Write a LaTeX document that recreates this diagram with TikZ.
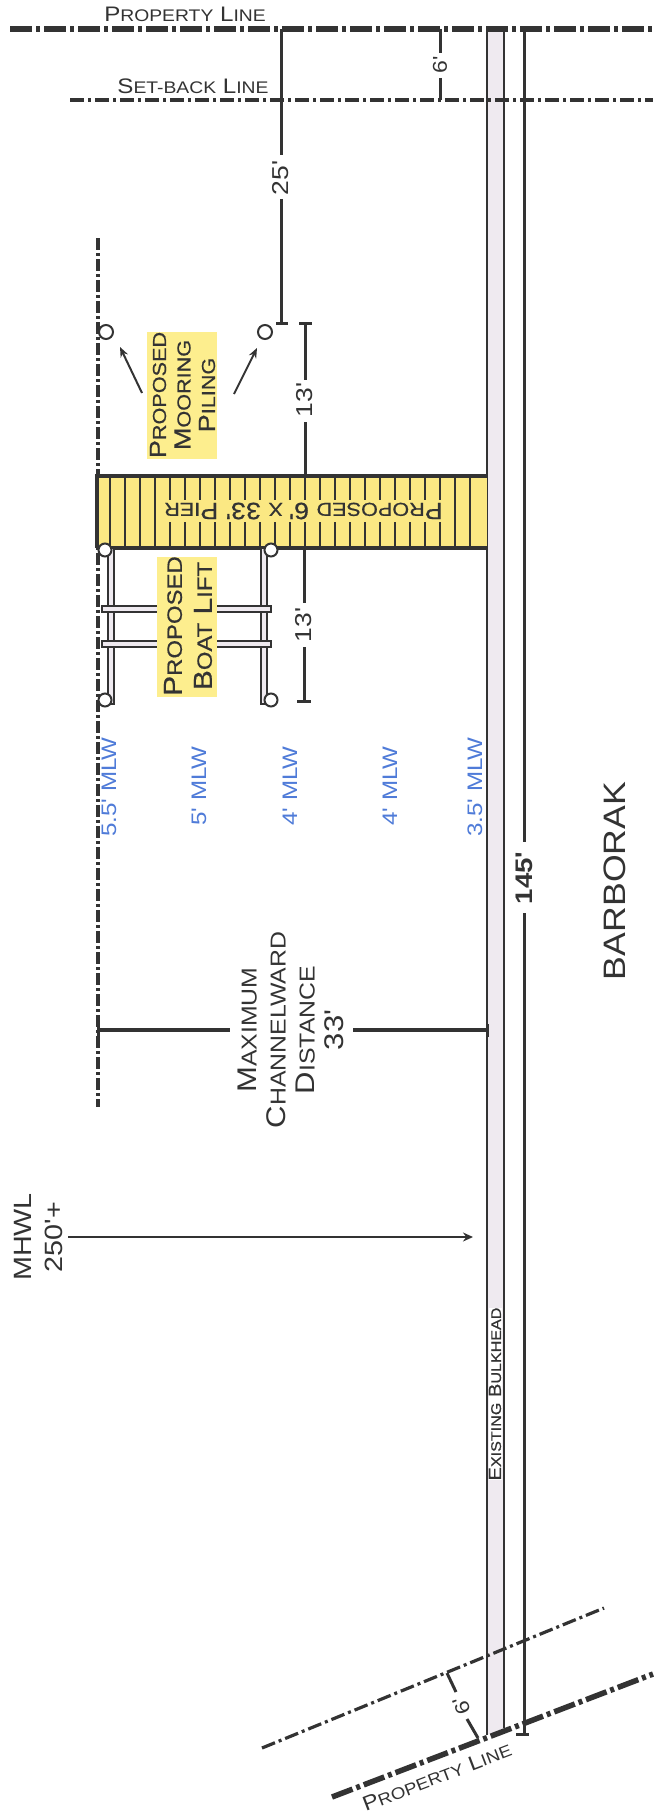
\documentclass[tikz,border=0pt]{standalone}
\usepackage{fontspec}
\setmainfont{Liberation Sans}
\newfontfamily\platefont[FakeStretch=1.15]{Liberation Sans}
\newfontfamily\heavyfont[FakeStretch=1.15,FakeBold=0.6]{Liberation Sans}
\usetikzlibrary{arrows.meta}
\definecolor{inkdark}{HTML}{333333}
\definecolor{pieryellow}{HTML}{FBE883}
\definecolor{markyellow}{HTML}{FDEE8E}
\definecolor{mlwblue}{HTML}{4F7BD8}
\definecolor{wallgray}{HTML}{EFEAF0}
\newcommand{\capword}[3]{{\fontsize{#1}{#1}\selectfont #2\fontsize{\the\dimexpr#1pt*4/5\relax}{#1}\selectfont #3}}
\tikzset{
  propline/.style={inkdark,line width=5.5pt,dash pattern=on 22pt off 4pt on 4pt off 4pt},
  setline/.style={inkdark,line width=3.2pt,dash pattern=on 14pt off 4pt on 3pt off 4pt},
  dimline/.style={inkdark,line width=3pt},
  pile/.style={circle,draw=inkdark,line width=2pt,fill=white,minimum size=13pt,inner sep=0pt},
  upright/.style={rotate=90,inner sep=0pt,text=inkdark},
  plate/.style={font=\platefont\fontsize{#1}{#1}\selectfont},
  mlw/.style={upright,text=mlwblue,plate=21},
  dimtext/.style={upright,plate=23},
}
\begin{document}
\begin{tikzpicture}[x=1pt,y=-1pt]
  \useasboundingbox (0,0) rectangle (653,1814);
  % bulkhead
  \fill [wallgray] (487,29) -- (487,1735) -- (504,1728) -- (504,29);
  \draw [inkdark,line width=2.2pt] (487,29) -- (487,1735) (504,29) -- (504,1728);
  \node (wall) [upright,fill=white,font=\heavyfont\fontsize{17.5}{17.5}\selectfont,minimum height=13pt] at (495,1394) {\capword{17.5}{E}{XISTING} \capword{17.5}{B}{ULKHEAD}};
  % lines across the lot
  \draw [propline] (10,29) -- (653,29);
  \draw [setline] (70,100) -- (653,100);
  \draw [inkdark,line width=3.5pt,dash pattern=on 12pt off 3pt on 3pt off 3pt] (98,238) -- (98,1107);
  \draw [propline] (332,1797) -- (653,1674);
  \draw [setline] (262,1748) -- (604,1608);
  \draw [dimline] (524,29) -- (524,842) (524,913) -- (524,1734);
  \draw [dimline] (516,1734) -- (529,1734);
  \node (lot) [upright,font=\platefont\bfseries\fontsize{24}{24}\selectfont] at (524,878) {145'};
  \node (owner) [upright,plate=31] at (615,881) {BARBORAK};
  % pier
  \fill [pieryellow] (97,476) rectangle (487,548);
  \foreach \i in {0,...,24}
    \draw [inkdark,line width=2pt] (110+\i*15,476) -- (110+\i*15,548);
  \draw [inkdark,line width=4pt] (97,548) -- (97,476) -- (487,476);
  \draw [inkdark,line width=3.5pt] (97,548) -- (487,548);
  \fill [pieryellow] (158,500) rectangle (454,522);
  \node (pier) [rotate=180,inner sep=0pt,text=inkdark,font=\heavyfont\fontsize{23.5}{23.5}\selectfont] at (303.5,511)
    {\capword{23.5}{P}{ROPOSED} \capword{23.5}{6'}{ X} \capword{23.5}{33'}{} \capword{23.5}{P}{IER}};
  % boat lift
  \foreach \x in {111,264}
    \draw [inkdark,line width=1.5pt,fill=wallgray] (\x-3,548) rectangle (\x+3,704);
  \foreach \y in {609,644}
    \draw [inkdark,line width=1.5pt,fill=wallgray] (102,\y-3) rectangle (271,\y+3);
  \node (lift1) [pile] at (105,550) {};
  \node (lift2) [pile] at (271,550) {};
  \node (lift3) [pile] at (105,700) {};
  \node (lift4) [pile] at (271,700) {};
  \fill [markyellow] (157,557) rectangle (217,697);
  \node (lifttext) [upright,align=center,font=\heavyfont\fontsize{26}{30}\selectfont] at (188,626)
    {\capword{26}{P}{ROPOSED}\\\capword{26}{B}{OAT} \capword{26}{L}{IFT}};
  % mooring piles
  \node (moor1) [pile,minimum size=14pt] at (106,332) {};
  \node (moor2) [pile,minimum size=14pt] at (265,332) {};
  \fill [markyellow] (147,332) rectangle (217,459);
  \node (moortext) [upright,align=center,font=\heavyfont\fontsize{23.5}{24.5}\selectfont] at (182.5,395)
    {\capword{23.5}{P}{ROPOSED}\\\capword{23.5}{M}{OORING}\\\capword{23.5}{P}{ILING}};
  \coordinate (from1) at (142,393);
  \coordinate (from2) at (234,394);
  \draw [-{Stealth[length=10pt,width=8pt]},dimline,line width=2pt] (from1) -- (120,347);
  \draw [-{Stealth[length=10pt,width=8pt]},dimline,line width=2pt] (from2) -- (257,348);
  % dimensions
  \node (d25) [dimtext] at (281,178) {25'};
  \draw [dimline] (281,29) -- (281,155) (281,199) -- (281,323) (276,323) -- (288,323);
  \node (d6) [upright,plate=20] at (440,65) {6'};
  \draw [dimline] (440,29) -- (440,53) (440,78) -- (440,100);
  \node (d13a) [dimtext] at (305,400) {13'};
  \draw [dimline] (299,323) -- (312,323) (305,323) -- (305,380) (305,422) -- (305,476);
  \node (d13b) [dimtext] at (304,625) {13'};
  \draw [dimline] (304,548) -- (304,603) (304,647) -- (304,701) (297,701) -- (311,701);
  % depths
  \node (depth1) [mlw] at (109,787) {5.5' MLW};
  \node (depth2) [mlw] at (199,786) {5' MLW};
  \node (depth3) [mlw] at (290,786) {4' MLW};
  \node (depth4) [mlw] at (390,786) {4' MLW};
  \node (depth5) [mlw] at (475,787) {3.5' MLW};
  % channelward distance
  \node (maxdist) [upright,align=center,font=\platefont\fontsize{27}{29}\selectfont] at (291,1030)
    {\capword{27}{M}{AXIMUM}\\\capword{27}{C}{HANNELWARD}\\\capword{27}{D}{ISTANCE}\\\capword{27}{33'}{}};
  \draw [dimline,line width=3.5pt] (98,1030) -- (230,1030) (353,1030) -- (487,1030);
  \draw [dimline] (98,1024) -- (98,1037) (487,1024) -- (487,1037);
  % mhwl
  \node (mhwl) [upright,align=center,font=\platefont\fontsize{25}{31}\selectfont] at (39,1237) {MHWL\\250'+};
  \draw [-{Stealth[length=10pt,width=9pt]},dimline,line width=2pt] (68,1237) -- (473,1237);
  % slanted end
  \node (d6b) [rotate=111,inner sep=0pt,text=inkdark,plate=20] at (462,1706) {6'};
  \draw [dimline] (447,1673) -- (456,1692) (467,1719) -- (478,1738);
  \node (parcel) [rotate=21,inner sep=0pt,text=inkdark,plate=20.5] at (437,1777) {\capword{20.5}{P}{ROPERTY} \capword{20.5}{L}{INE}};
  % line names
  \node (proplabel) [inner sep=0pt,text=inkdark,plate=21] at (185,14) {\capword{21}{P}{ROPERTY} \capword{21}{L}{INE}};
  \node (setlabel) [inner sep=0pt,text=inkdark,plate=21] at (193,86) {\capword{21}{S}{ET-BACK} \capword{21}{L}{INE}};
\end{tikzpicture}
\end{document}
